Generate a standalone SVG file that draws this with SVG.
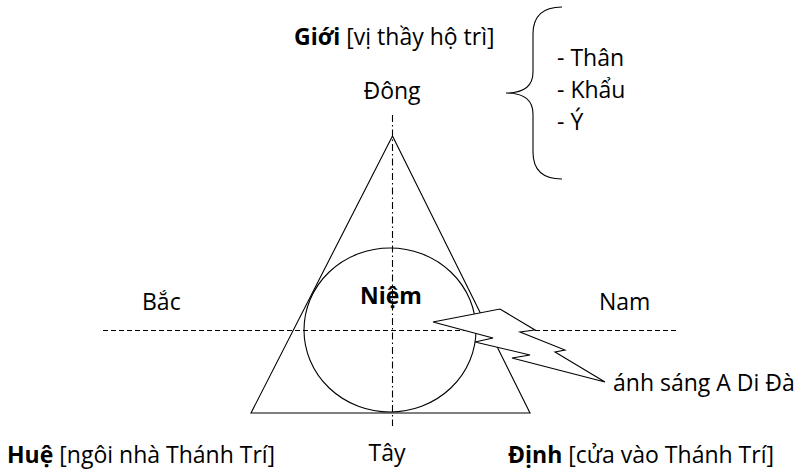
<svg xmlns="http://www.w3.org/2000/svg" width="810" height="471" viewBox="0 0 810 471">
<style>
text{font-family:"Open Sans","Liberation Sans",sans-serif;font-size:23px;fill:#000}
.b{font-weight:bold}
.ln{fill:none;stroke:#000;stroke-width:1.1}
</style>
<rect width="810" height="471" fill="#fff"/>
<g id="axes">
<line class="ln" x1="103" y1="330.5" x2="679" y2="330.5" stroke-dasharray="5,3"/>
<line class="ln" x1="392.5" y1="115" x2="392.5" y2="426" stroke-dasharray="7,3,1.5,3"/>
</g>
<g id="triangle">
<polygon class="ln" points="392.5,136 251,413 530,413"/>
</g>
<g id="circle">
<ellipse class="ln" cx="390" cy="330" rx="86" ry="82"/>
<text class="b" x="391" y="304" text-anchor="middle">Niệm</text>
</g>
<g id="bolt">
<polygon class="ln" style="fill:#fff" points="433,322 500,309 535,330 520,332 565,350 555,352 605,382 512,358 530,355 475,342 493,338"/>
</g>
<g id="brace">
<path class="ln" d="M562,7 C542,7 533,16 533,34 L533,72 C533,86 524,93 506,93 C524,93 533,100 533,114 L533,152 C533,170 542,179 562,179"/>
<text x="557" y="66">- Thân</text>
<text x="557" y="98">- Khẩu</text>
<text x="557" y="130">- Ý</text>
</g>
<g id="labels">
<text x="294" y="45"><tspan class="b">Giới</tspan> [vị thầy hộ trì]</text>
<text x="392" y="99" text-anchor="middle">Đông</text>
<text x="142" y="310">Bắc</text>
<text x="599" y="310">Nam</text>
<text x="613" y="391">ánh sáng A Di Đà</text>
<text x="7" y="463"><tspan class="b">Huệ</tspan> [ngôi nhà Thánh Trí]</text>
<text x="387" y="461" text-anchor="middle">Tây</text>
<text x="508" y="463"><tspan class="b">Định</tspan> [cửa vào Thánh Trí]</text>
</g>
</svg>
